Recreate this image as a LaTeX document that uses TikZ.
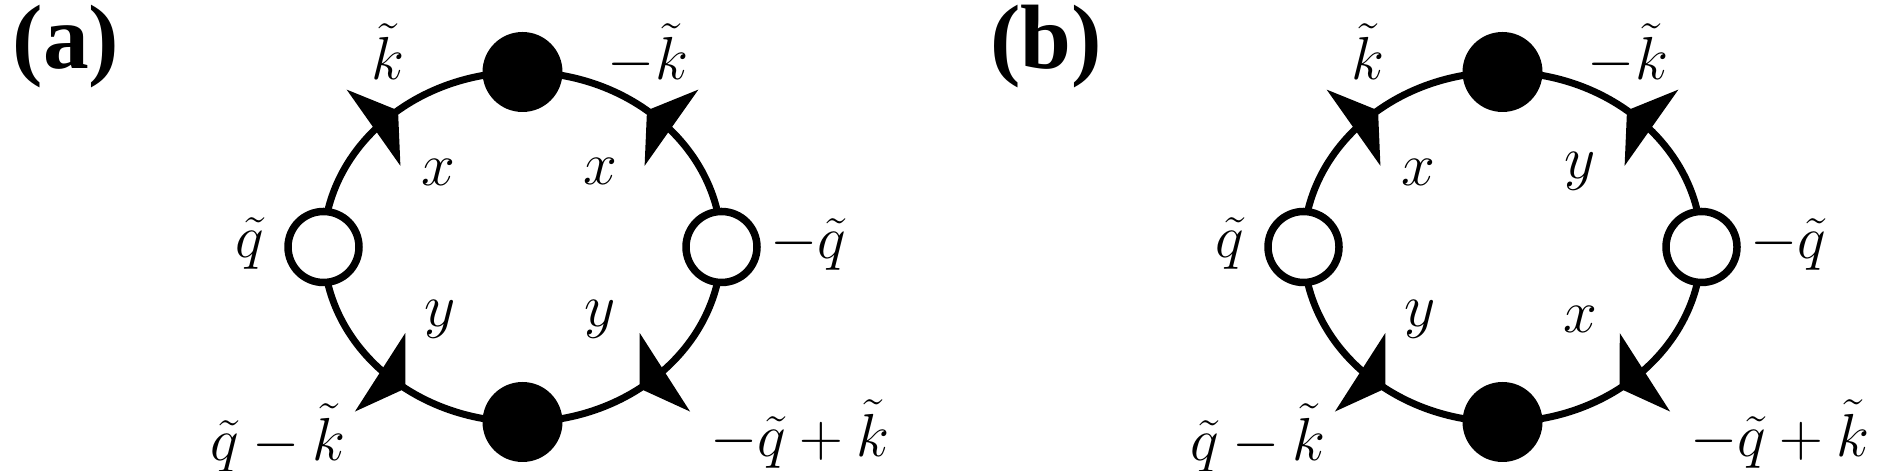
\documentclass[tikz,border=0pt]{standalone}
\usepackage{fontspec}
\setmainfont{Liberation Serif}
\usepackage{amsmath}
\usetikzlibrary{arrows.meta,decorations.markings,backgrounds}

\tikzset{
  ring/.style={line width=0.7mm},
  dot/.style={circle,fill=black,inner sep=0pt,minimum size=8mm},
  hole/.style={circle,draw=black,fill=white,line width=0.75mm,inner sep=0pt,minimum size=7.1mm},
  lbl/.style={font=\fontsize{16.5}{20}\selectfont},
  panel/.style={font=\fontsize{26}{30}\selectfont\bfseries},
  flow/.tip={Triangle[length=3mm,width=9.2mm]},
  mid arrow/.style={postaction={decorate},decoration={markings,mark=at position #1 with {\arrow{flow}}}}
}

\begin{document}
\begin{tikzpicture}
\useasboundingbox (0,0) rectangle (18.77,4.71);
\foreach \p/\sx/\ul/\ur/\ll/\lr in {a/0/x/x/y/y,b/9.8/x/y/y/x}{
\begin{scope}[xshift=\sx cm]
% Panel label
\node[panel] (\p-name) at (0.66,4.24) {(\p)};

% Vertices
\node[dot] (\p-t) at (5.225,3.99) {};
\node[dot] (\p-b) at (5.225,0.49) {};
\node[hole] (\p-l) at (3.235,2.24) {};
\node[hole] (\p-r) at (7.215,2.24) {};

% Ring
\begin{scope}[on background layer]
\draw[ring,mid arrow=0.55] (\p-l.center) to[out=90,in=180,out distance=0.967cm,in distance=1.099cm] (\p-t.center);
\draw[ring,mid arrow=0.55] (\p-r.center) to[out=90,in=0,out distance=0.967cm,in distance=1.099cm] (\p-t.center);
\draw[ring,mid arrow=0.58] (\p-l.center) to[out=-90,in=180,out distance=0.967cm,in distance=1.099cm] (\p-b.center);
\draw[ring,mid arrow=0.58] (\p-r.center) to[out=-90,in=0,out distance=0.967cm,in distance=1.099cm] (\p-b.center);
\end{scope}

% Momenta
\node[lbl] (\p-k) at (3.88,4.19) {$\tilde{k}$};
\node[lbl] (\p-mk) at (6.48,4.17) {$-\tilde{k}$};
\node[lbl] (\p-q) at (2.50,2.28) {$\tilde{q}$};
\node[lbl] (\p-mq) at (8.08,2.27) {$-\tilde{q}$};
\node[lbl] (\p-qk) at (2.78,0.33) {$\tilde{q}-\tilde{k}$};
\node[lbl] (\p-mqk) at (8.00,0.37) {$-\tilde{q}+\tilde{k}$};

% Components
\node[lbl] (\p-ul) at (4.38,2.99) {$\ul$};
\node[lbl] (\p-ur) at (6.00,3.00) {$\ur$};
\node[lbl] (\p-ll) at (4.40,1.52) {$\ll$};
\node[lbl] (\p-lr) at (6.00,1.52) {$\lr$};
\end{scope}
}
\end{tikzpicture}
\end{document}
